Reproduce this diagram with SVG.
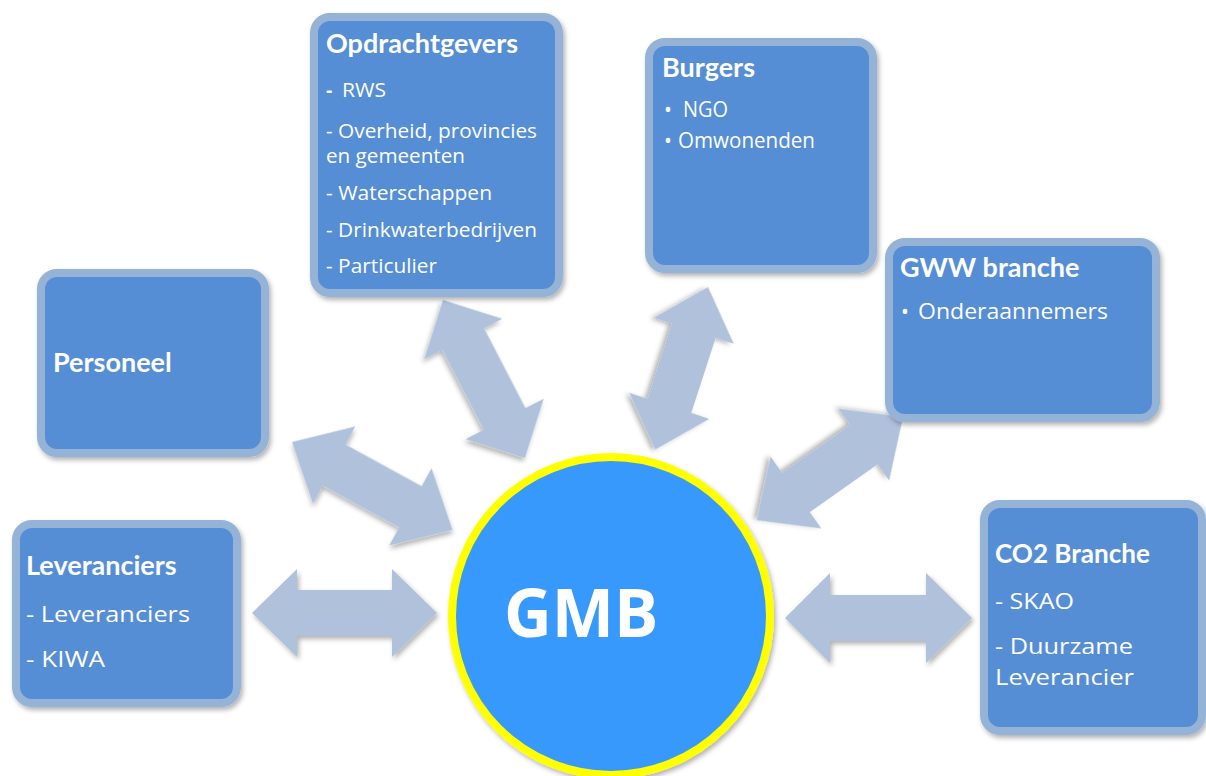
<svg xmlns="http://www.w3.org/2000/svg" width="1206" height="776" viewBox="0 0 1206 776">
<defs>
<filter id="sh" x="-20%" y="-20%" width="140%" height="140%">
<feDropShadow dx="2" dy="3" stdDeviation="2.5" flood-color="#000" flood-opacity="0.3"/>
</filter>
</defs>
<style>
.arr{fill:#B0C1DC;filter:url(#sh)}
.box{fill:#558ED5;stroke:#95B3D7;stroke-width:8;filter:url(#sh)}
text{font-family:"Open Sans","Liberation Sans",sans-serif;fill:#fff}
.h{font-family:Lato,"Open Sans","Liberation Sans",sans-serif;font-weight:bold;font-size:27px}
.t{font-size:19.5px}
.b{font-size:21px}
.c{font-size:22px}
</style>
<rect width="1206" height="776" fill="#fff"/>
<g id="connectors">
<path class="arr" transform="translate(443,300) rotate(62.6)" d="M0,0 L44,-44 L44,-23.5 L134,-23.5 L134,-44 L178,0 L134,44 L134,23.5 L44,23.5 L44,44 Z"/>
<path class="arr" transform="translate(708,287) rotate(108)" d="M0,0 L46,-42 L46,-23 L125,-23 L125,-42 L171,0 L125,42 L125,23 L46,23 L46,42 Z"/>
<path class="arr" transform="translate(903,417) rotate(144.8)" d="M0,0 L48,-44 L48,-24 L131,-24 L131,-44 L179,0 L131,44 L131,24 L48,24 L48,44 Z"/>
<path class="arr" transform="translate(292,442) rotate(28.7)" d="M0,0 L48,-44 L48,-23.5 L135,-23.5 L135,-44 L183,0 L135,44 L135,23.5 L48,23.5 L48,44 Z"/>
<path class="arr" d="M252,613 L297,569 L297,590 L392,590 L392,569 L437,613 L392,657 L392,636 L297,636 L297,657 Z"/>
<path class="arr" d="M785,618 L830,573 L830,595 L926,595 L926,573 L972,618 L926,663 L926,641 L830,641 L830,663 Z"/>
</g>
<g id="opdrachtgevers">
<rect class="box" x="314" y="17" width="245" height="276" rx="16"/>
<text class="h" x="326" y="53">Opdrachtgevers</text>
<text class="t" x="326" y="97" font-weight="bold">-</text>
<text class="t" x="342" y="97" textLength="44" lengthAdjust="spacingAndGlyphs">RWS</text>
<text class="t" x="326" y="138" textLength="211" lengthAdjust="spacingAndGlyphs">- Overheid, provincies</text>
<text class="t" x="326" y="163" textLength="139" lengthAdjust="spacingAndGlyphs">en gemeenten</text>
<text class="t" x="326" y="200" textLength="166" lengthAdjust="spacingAndGlyphs">- Waterschappen</text>
<text class="t" x="326" y="237" textLength="211" lengthAdjust="spacingAndGlyphs">- Drinkwaterbedrijven</text>
<text class="t" x="326" y="273" textLength="111" lengthAdjust="spacingAndGlyphs">- Particulier</text>
</g>
<g id="burgers">
<rect class="box" x="649" y="42" width="224" height="227" rx="16"/>
<text class="h" x="662" y="77">Burgers</text>
<text class="b" x="664" y="117">•</text>
<text class="b" x="683" y="117" textLength="45" lengthAdjust="spacingAndGlyphs">NGO</text>
<text class="b" x="664" y="148">•</text>
<text class="b" x="678" y="148" textLength="137" lengthAdjust="spacingAndGlyphs">Omwonenden</text>
</g>
<g id="gww">
<rect class="box" x="889" y="242" width="267" height="176" rx="16"/>
<text class="h" x="900" y="277">GWW branche</text>
<text class="b" x="901" y="319">•</text>
<text class="b" x="918" y="319" textLength="190" lengthAdjust="spacingAndGlyphs">Onderaannemers</text>
</g>
<g id="personeel">
<rect class="box" x="41" y="273" width="224" height="180" rx="16"/>
<text class="h" x="53" y="372">Personeel</text>
</g>
<g id="leveranciers">
<rect class="box" x="16" y="524" width="221" height="179" rx="16"/>
<text class="h" x="26" y="575">Leveranciers</text>
<text class="c" x="26" y="622" textLength="164" lengthAdjust="spacingAndGlyphs">- Leveranciers</text>
<text class="c" x="26" y="667" textLength="79" lengthAdjust="spacingAndGlyphs">- KIWA</text>
</g>
<g id="co2">
<rect class="box" x="984" y="504" width="218" height="227" rx="16"/>
<text class="h" x="995" y="563" textLength="155" lengthAdjust="spacingAndGlyphs">CO2 Branche</text>
<text class="c" x="995" y="609" textLength="79" lengthAdjust="spacingAndGlyphs">- SKAO</text>
<text class="c" x="995" y="654" textLength="138" lengthAdjust="spacingAndGlyphs">- Duurzame</text>
<text class="c" x="995" y="685" textLength="139" lengthAdjust="spacingAndGlyphs">Leverancier</text>
</g>
<g id="gmb">
<circle cx="611" cy="616" r="159" fill="#3899FD" stroke="#FFFF00" stroke-width="8" filter="url(#sh)"/>
<text x="504" y="637" font-family="Lato,'Open Sans',sans-serif" font-size="66" font-weight="bold">GMB</text>
</g>
</svg>
